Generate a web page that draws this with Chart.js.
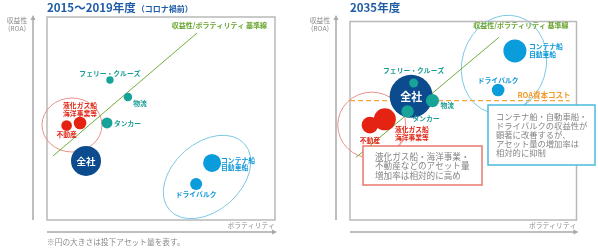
<!DOCTYPE html>
<html>
<head>
<meta charset="utf-8">
<script src="https://cdn.jsdelivr.net/npm/chart.js@4"></script>
<style>
  body { margin: 0; background: #fff; }
  #wrap { position: relative; width: 598px; height: 250px; }
  canvas { position: absolute; top: 0; }
</style>
</head>
<body>
<div id="wrap">
  <canvas id="c2019" width="299" height="250" style="left:0"></canvas>
  <canvas id="c2035" width="299" height="250" style="left:299px"></canvas>
</div>
<script>
// Data (x = volatility, y = ROA, r = invested assets, relative units)
const categories = ["全社", "フェリー・クルーズ", "物流", "タンカー", "液化ガス船・海洋事業等", "不動産", "コンテナ船・自動車船", "ドライバルク"];
const labelLines = [["全社"], ["フェリー・クルーズ"], ["物流"], ["タンカー"], ["液化ガス船", "海洋事業等"], ["不動産"], ["コンテナ船", "自動車船"], ["ドライバルク"]];

const x2019 = [17.1, 27.6, 35.5, 26.3, 14.5, 8.6, 72.4, 65.4];
const y2019 = [29.1, 69.0, 60.6, 47.8, 47.8, 46.5, 28.1, 17.7];
const r2019 = [15, 3.7, 4.3, 5.5, 6.3, 5.3, 9, 6];

const x2035 = [27.0, 28.1, 36.4, 25.4, 15.4, 8.8, 72.8, 65.4];
const y2035 = [62.3, 69.0, 60.1, 54.7, 50.7, 47.8, 85.2, 65.5];
const r2035 = [21.5, 4.5, 6.6, 6.2, 11, 8.3, 11.5, 6.3];

// 収益性/ボラティリティ 基準線
const baseLineX = [2.6, 65.8];
const baseLineY = [31.5, 92.1];
const roaCost = 60.1; // ROA資本コスト (2035 only)

const JP = '"Noto Sans CJK JP", "Noto Sans", sans-serif';
const catColors = ["#0c4c8e", "#17a398", "#17a398", "#17a398", "#e42313", "#e42313", "#0a9cdb", "#0a9cdb"];
const labelColors = ["#ffffff", "#1a9c94", "#1a9c94", "#1a9c94", "#e02515", "#e02515", "#0a98d6", "#0a98d6"];

// label offsets [dx, dy, align] per panel
const labels2019 = [[0, 0, "center"], [0, -7, "center"], [12, 6, "center"], [7, 0, "left"], [0, -17.5, "center"], [0, 8.5, "center"], [9, -3, "left"], [0, 10, "center"]];
const labels2035 = [[0, 0, "center"], [0, -13, "center"], [8, 5, "left"], [5, 7, "left"], [10, 10.5, "left"], [0, 15, "center"], [14, -4.5, "left"], [0, -10, "center"]];

function ellipse(ctx, cx, cy, rx, ry, rot, color) {
  ctx.save();
  ctx.strokeStyle = color;
  ctx.lineWidth = 1;
  ctx.beginPath();
  ctx.ellipse(cx, cy, rx, ry, rot, 0, Math.PI * 2);
  ctx.stroke();
  ctx.restore();
}

function arrowHead(ctx, x, y, dir) {
  ctx.beginPath();
  if (dir === "up") { ctx.moveTo(x, y - 3); ctx.lineTo(x - 2.5, y + 2); ctx.lineTo(x + 2.5, y + 2); }
  else { ctx.moveTo(x + 3, y); ctx.lineTo(x - 2, y - 2.5); ctx.lineTo(x - 2, y + 2.5); }
  ctx.closePath();
  ctx.fill();
}

function noteBox(ctx, x, y, w, h, color, lines, tx, ty, lh, size) {
  ctx.save();
  ctx.fillStyle = "#fff";
  ctx.fillRect(x, y, w, h);
  ctx.strokeStyle = color;
  ctx.lineWidth = 1.5;
  ctx.strokeRect(x, y, w, h);
  ctx.fillStyle = "#858585";
  ctx.font = size + "px " + JP;
  ctx.textAlign = "left";
  ctx.textBaseline = "middle";
  lines.forEach((t, i) => ctx.fillText(t, tx, ty + i * lh));
  ctx.restore();
}

function makePanel(id, xs, ys, rs, labelPos, opts) {
  const decor = {
    id: "decor",
    beforeDatasetsDraw(chart) {
      const ctx = chart.ctx, ca = chart.chartArea;
      const sx = chart.scales.x, sy = chart.scales.y;
      ctx.save();
      ctx.strokeStyle = "#b9b9b9";
      ctx.lineWidth = 1.5;
      ctx.strokeRect(ca.left, ca.top, ca.right - ca.left, ca.bottom - ca.top);
      // groups
      opts.ellipses.forEach(e => ellipse(ctx, sx.getPixelForValue(e[0]), sy.getPixelForValue(e[1]), e[2], e[3], e[4], e[5]));
      // base line
      ctx.strokeStyle = "#6fae3a";
      ctx.lineWidth = 1;
      ctx.beginPath();
      ctx.moveTo(sx.getPixelForValue(baseLineX[0]), sy.getPixelForValue(baseLineY[0]));
      ctx.lineTo(sx.getPixelForValue(baseLineX[1]), sy.getPixelForValue(baseLineY[1]));
      ctx.stroke();
      if (opts.roa) {
        ctx.strokeStyle = "#f4a23a";
        ctx.lineWidth = 1.3;
        ctx.setLineDash([5, 3]);
        ctx.beginPath();
        ctx.moveTo(ca.left, sy.getPixelForValue(roaCost));
        ctx.lineTo(ca.right - 7, sy.getPixelForValue(roaCost));
        ctx.stroke();
        ctx.setLineDash([]);
      }
      ctx.restore();
    },
    afterDatasetsDraw(chart) {
      const ctx = chart.ctx, ca = chart.chartArea;
      const sx = chart.scales.x, sy = chart.scales.y;
      ctx.save();
      ctx.textBaseline = "middle";
      // bubble labels
      xs.forEach((v, i) => {
        const px = sx.getPixelForValue(v), py = sy.getPixelForValue(ys[i]);
        const p = labelPos[i];
        ctx.fillStyle = labelColors[i];
        ctx.textAlign = p[2];
        ctx.font = i === 0 ? "bold " + opts.totalFont + "px " + JP : "bold 6.8px " + JP;
        labelLines[i].forEach((t, k) => ctx.fillText(t, px + p[0], py + p[1] + k * 7.8));
      });
      // base line label
      ctx.fillStyle = "#6aa532";
      ctx.font = "bold 7px " + JP;
      ctx.textAlign = "right";
      ctx.fillText("収益性/ボラティリティ 基準線", ca.right - 8, 25);
      if (opts.roa) {
        ctx.fillStyle = "#f39a2b";
        ctx.font = "bold 7.5px " + JP;
        ctx.fillText("ROA資本コスト", ca.right - 6, sy.getPixelForValue(roaCost) - 6);
      }
      // title
      ctx.textAlign = "left";
      ctx.fillStyle = "#1f5ca6";
      ctx.font = "bold 11.5px " + JP;
      ctx.fillText(opts.title, ca.left, 8);
      if (opts.subtitle) {
        const w = ctx.measureText(opts.title).width;
        ctx.font = "bold 8px " + JP;
        ctx.fillText(opts.subtitle, ca.left + w + 1, 8.5);
      }
      // axes
      ctx.strokeStyle = "#a8a8a8";
      ctx.fillStyle = "#a8a8a8";
      ctx.lineWidth = 1.5;
      const ax = ca.left - 14;
      ctx.beginPath(); ctx.moveTo(ax, 19); ctx.lineTo(ax, ca.bottom); ctx.stroke();
      arrowHead(ctx, ax, 18, "up");
      ctx.beginPath(); ctx.moveTo(ca.left, 232); ctx.lineTo(ca.right - 2, 232); ctx.stroke();
      arrowHead(ctx, ca.right - 1, 232, "right");
      ctx.fillStyle = "#8a8a8a";
      ctx.font = "6.8px " + JP;
      ctx.textAlign = "center";
      ctx.fillText("収益性", ca.left - 30, 20);
      ctx.fillText("(ROA)", ca.left - 30, 28.5);
      ctx.textAlign = "right";
      ctx.fillText("ボラティリティ", ca.right, 225);
      if (opts.footnote) {
        ctx.textAlign = "left";
        ctx.font = "7.7px " + JP;
        ctx.fillText(opts.footnote, ca.left, 242);
      }
      // notes (page coordinates)
      ctx.translate(-opts.offset, 0);
      if (opts.notes) opts.notes(ctx);
      ctx.restore();
    }
  };

  return new Chart(document.getElementById(id), {
    type: "bubble",
    data: {
      labels: categories,
      datasets: [{
        data: xs.map((v, i) => ({ x: v, y: ys[i], r: rs[i] })),
        backgroundColor: catColors,
        borderWidth: 0
      }]
    },
    options: {
      responsive: false,
      animation: false,
      events: [],
      devicePixelRatio: 1,
      layout: { padding: opts.padding },
      plugins: { legend: { display: false }, tooltip: { enabled: false } },
      scales: {
        x: { type: "linear", min: 0, max: 100, display: false },
        y: { type: "linear", min: 0, max: 100, display: false }
      }
    },
    plugins: [decor]
  });
}

makePanel("c2019", x2019, y2019, r2019, labels2019, {
  offset: 0,
  padding: { left: 47, right: 24, top: 17, bottom: 30 },
  title: "2015～2019年度",
  subtitle: "（コロナ禍前）",
  totalFont: 9.5,
  footnote: "※円の大きさは投下アセット量を表す。",
  ellipses: [
    [10.96, 46.8, 30, 27, 0, "#e8918a"],
    [70.2, 21.2, 50, 34, -0.72, "#7cc8e4"]
  ]
});

makePanel("c2035", x2035, y2035, r2035, labels2035, {
  offset: 299,
  padding: { left: 51, right: 20, top: 17, bottom: 30 },
  title: "2035年度",
  totalFont: 11,
  roa: true,
  ellipses: [
    [9.6, 47.8, 34, 33, 0, "#e8918a"],
    [68.0, 78.3, 42, 50, 0.3, "#7cc8e4"]
  ],
  notes(ctx) {
    ctx.lineWidth = 1;
    ctx.strokeStyle = "#e8918a";
    ctx.beginPath(); ctx.moveTo(405, 138); ctx.lineTo(399, 146); ctx.stroke();
    ctx.strokeStyle = "#7cc8e4";
    ctx.beginPath(); ctx.moveTo(524, 105); ctx.lineTo(531, 97); ctx.stroke();
    noteBox(ctx, 363, 146, 119, 39, "#e8786e",
      ["液化ガス船・海洋事業・", "不動産などのアセット量", "増加率は相対的に高め"], 375, 156.5, 9.6, 8.6);
    noteBox(ctx, 488, 105, 107, 60, "#4ab8e0",
      ["コンテナ船・自動車船・", "ドライバルクの収益性が", "顕著に改善するが、", "アセット量の増加率は", "相対的に抑制"], 496, 116.5, 9.2, 8.3);
  }
});
</script>
</body>
</html>
